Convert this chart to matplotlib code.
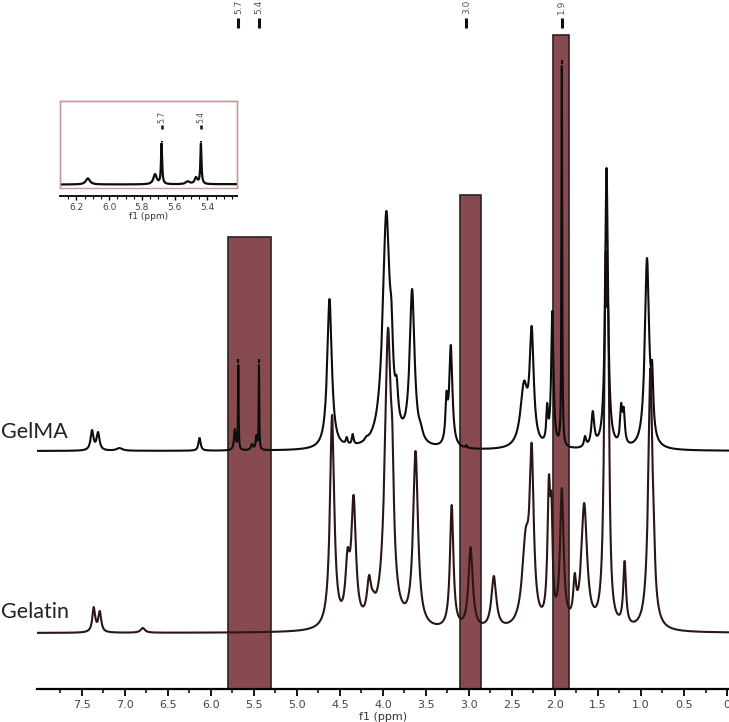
import numpy as np
import matplotlib
matplotlib.use('Agg')
import matplotlib.pyplot as plt
from matplotlib.patches import Rectangle

# peak tables: shift (ppm), height above baseline (px), half width (ppm)
gelma_ppm = [7.38, 7.31, 7.06, 6.13, 5.72, 5.68, 5.52, 5.47, 5.44, 4.62, 4.48, 4.42, 4.35, 4.19,
             3.96, 3.90, 3.84, 3.66, 3.56, 3.26, 3.21, 3.03, 2.36, 2.27, 2.09, 2.03, 1.92, 1.65,
             1.56, 1.40, 1.23, 1.20, 0.93, 0.87]
gelma_height = [21, 19, 3, 13, 22, 86, 7, 16, 86, 152, 10, 14, 17, 15,
                240, 150, 75, 162, 28, 60, 106, 6, 70, 125, 48, 140, 385, 15,
                40, 283, 48, 44, 193, 90]
gelma_hw = [0.02, 0.02, 0.04, 0.015, 0.012, 0.004, 0.015, 0.01, 0.004, 0.032, 0.012, 0.012, 0.012, 0.02,
            0.05, 0.02, 0.02, 0.034, 0.03, 0.015, 0.022, 0.008, 0.05, 0.028, 0.012, 0.016, 0.005, 0.015,
            0.02, 0.02, 0.015, 0.015, 0.03, 0.015]

gelatin_ppm = [7.36, 7.29, 6.79, 4.59, 4.41, 4.34, 4.16, 4.11, 3.94, 3.89, 3.62, 3.20, 2.98, 2.71,
               2.34, 2.27, 2.07, 2.04, 1.92, 1.77, 1.66, 1.41, 1.38, 1.19, 0.89, 0.85]
gelatin_height = [26, 22, 5, 218, 85, 138, 58, 42, 305, 210, 182, 128, 86, 57,
                  105, 190, 158, 140, 145, 60, 130, 380, 320, 72, 265, 125]
gelatin_hw = [0.02, 0.02, 0.03, 0.03, 0.03, 0.032, 0.03, 0.03, 0.045, 0.02, 0.034, 0.024, 0.03, 0.034,
              0.05, 0.028, 0.02, 0.015, 0.025, 0.02, 0.04, 0.022, 0.015, 0.019, 0.03, 0.012]

gelma_base = 238
gelatin_base = 56

# highlighted regions
box_left = [5.80, 3.10, 2.02]
box_right = [5.30, 2.86, 1.84]
box_top = [452, 494, 654]

# peak picks shown above the spectrum
pick_ppm = [5.68, 5.44, 3.03, 1.92]
pick_labels = ['5.7', '5.4', '3.0', '1.9']
inset_pick_ppm = [5.68, 5.44]
inset_pick_labels = ['5.7', '5.4']

main_ticks = [7.5, 7.0, 6.5, 6.0, 5.5, 5.0, 4.5, 4.0, 3.5, 3.0, 2.5, 2.0, 1.5, 1.0, 0.5, 0.0]
main_ticklabels = ['7.5', '7.0', '6.5', '6.0', '5.5', '5.0', '4.5', '4.0', '3.5', '3.0',
                   '2.5', '2.0', '1.5', '1.0', '0.5', '0']
inset_ticks = [6.2, 6.0, 5.8, 5.6, 5.4]


def spectrum(x, centers, heights, widths):
    c = np.array(centers)
    h = np.array(heights, dtype=float)
    w = np.array(widths)

    def shape(p):
        return 1.0 / (1.0 + ((p[:, None] - c[None, :]) / w[None, :]) ** 2)

    # amplitudes so that the summed curve hits the read heights at each peak
    amp = np.linalg.solve(shape(c), h)
    amp = np.clip(amp, 0, None)
    return shape(x) @ amp


ppm = np.linspace(-0.05, 8.05, 30000)
gelma = gelma_base + spectrum(ppm, gelma_ppm, gelma_height, gelma_hw)
gelatin = gelatin_base + spectrum(ppm, gelatin_ppm, gelatin_height, gelatin_hw)

W, H = 729, 722
fig = plt.figure(figsize=(W / 100, H / 100), dpi=100)
ax = fig.add_axes([37 / W, 33 / H, 692 / W, 689 / H])

for l, r, t in zip(box_left, box_right, box_top):
    ax.add_patch(Rectangle((r, 0), l - r, t, facecolor='#874b4f', edgecolor='#2e2020',
                           linewidth=1.2, zorder=1))

ax.plot(ppm, gelatin, color='#2b1616', lw=1.5, zorder=2)
ax.plot(ppm, gelma, color='#0d0d0d', lw=1.5, zorder=3)

for p, lab in zip(pick_ppm, pick_labels):
    ax.plot([p, p], [661, 671], color='#111111', lw=2.2, solid_capstyle='butt')
    ax.text(p, 675, lab, rotation=90, ha='center', va='bottom', fontsize=6.5, color='#555555')

# small pick marks on top of the picked peaks
for p in [5.68, 5.44, 1.92]:
    top = np.interp(p, ppm, gelma)
    ax.plot([p, p], [top + 2, top + 6], color='#111111', lw=1.6, solid_capstyle='butt', zorder=4)

ax.set_xlim(8.02, -0.023)
ax.set_ylim(0, 689)
for s in ['top', 'left', 'right']:
    ax.spines[s].set_visible(False)
ax.spines['bottom'].set_linewidth(1.6)
ax.set_yticks([])
ax.set_xticks(main_ticks)
ax.set_xticklabels(main_ticklabels)
ax.set_xticks(np.arange(0.25, 8.0, 0.5), minor=True)
ax.tick_params(axis='x', which='major', length=5, width=1.3, labelsize=8, labelcolor='#444444', pad=3)
ax.tick_params(axis='x', which='minor', length=3, width=1.1)
ax.set_xlabel('f1 (ppm)', fontsize=8, color='#333333', labelpad=1)

fig.text(1 / W, 1 - 432 / H, 'GelMA', fontsize=15.5, family='Lato', color='#222222', va='center')
fig.text(1 / W, 1 - 612 / H, 'Gelatin', fontsize=15.5, family='Lato', color='#222222', va='center')

# inset zoom on the methacrylate protons
ins = fig.add_axes([60 / W, 1 - 188 / H, 177 / W, 87 / H])
ins.plot(ppm, gelma, color='#0d0d0d', lw=1.6)
for p, lab in zip(inset_pick_ppm, inset_pick_labels):
    ins.plot([p, p], [354, 362], color='#111111', lw=1.8, solid_capstyle='butt')
    ins.text(p, 366, lab, rotation=90, ha='center', va='bottom', fontsize=5.5, color='#555555')
    top = np.interp(p, ppm, gelma)
    ins.plot([p, p], [top + 2, top + 5], color='#111111', lw=1.4, solid_capstyle='butt')
ins.set_xlim(6.30, 5.22)
ins.set_ylim(231, 412)
ins.set_yticks([])
for s in ['top', 'left', 'right', 'bottom']:
    ins.spines[s].set_color('#c79a9a')
    ins.spines[s].set_linewidth(1.0)
ins.add_patch(Rectangle((0, 0), 1, 1, transform=ins.transAxes, fill=False,
                        edgecolor='#c79a9a', lw=1.0, clip_on=False))
ins.spines['bottom'].set_position(('outward', 6))
ins.spines['bottom'].set_color('#111111')
ins.spines['bottom'].set_linewidth(1.4)
ins.set_xticks(inset_ticks)
ins.set_xticklabels(['6.2', '6.0', '5.8', '5.6', '5.4'])
ins.set_xticks(np.arange(5.25, 6.30, 0.05), minor=True)
ins.tick_params(axis='x', which='major', length=3, width=1.0, labelsize=6.5, labelcolor='#444444', pad=1.5)
ins.tick_params(axis='x', which='minor', length=2, width=0.8)
ins.set_xlabel('f1 (ppm)', fontsize=6.5, color='#333333', labelpad=0)

fig.savefig('out.png', dpi=100)
